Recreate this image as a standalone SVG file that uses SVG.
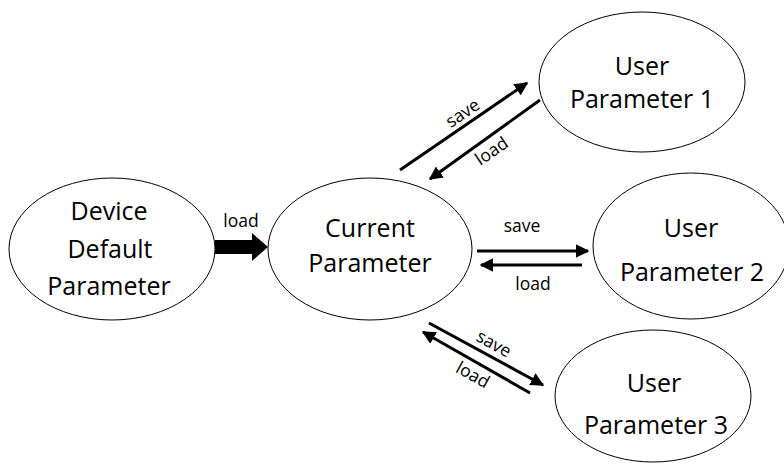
<svg xmlns="http://www.w3.org/2000/svg" width="784" height="473" viewBox="0 0 784 473">
<style>
.n{fill:#fff;stroke:#000;stroke-width:1}
.t{font-family:"Open Sans","Liberation Sans",sans-serif;font-size:25px;fill:#000;text-anchor:middle}
.l{font-family:"Open Sans","Liberation Sans",sans-serif;font-size:17.5px;fill:#000;text-anchor:middle}
.c{stroke:#000;stroke-width:3;fill:none;marker-end:url(#ah)}
</style>
<defs>
<marker id="ah" viewBox="0 0 10 10" refX="9" refY="5" markerWidth="4.5" markerHeight="4.5" markerUnits="strokeWidth" orient="auto">
<path d="M0,0 L10,5 L0,10 Z" fill="#000"/>
</marker>
</defs>
<rect width="784" height="473" fill="#fff"/>
<g id="device">
<ellipse class="n" cx="112" cy="249" rx="103" ry="71"/>
<text class="t" x="109" y="220">Device</text>
<text class="t" x="110" y="258">Default</text>
<text class="t" x="109" y="295">Parameter</text>
</g>
<g id="current">
<ellipse class="n" cx="370" cy="249" rx="102" ry="71"/>
<text class="t" x="370" y="237">Current</text>
<text class="t" x="370" y="272">Parameter</text>
</g>
<g id="user1">
<ellipse class="n" cx="642" cy="82" rx="103" ry="70"/>
<text class="t" x="642" y="75">User</text>
<text class="t" x="642" y="108">Parameter 1</text>
</g>
<g id="user2">
<ellipse class="n" cx="691" cy="246" rx="98" ry="73"/>
<text class="t" x="691" y="237">User</text>
<text class="t" x="692" y="281">Parameter 2</text>
</g>
<g id="user3">
<ellipse class="n" cx="653" cy="396" rx="98" ry="66"/>
<text class="t" x="654" y="392">User</text>
<text class="t" x="656" y="434">Parameter 3</text>
</g>
<g id="connectors">
<path d="M215,240 H252 V233 L268,247 L252,261 V254 H215 Z" fill="#000"/>
<text class="l" x="241" y="227">load</text>
<line class="c" x1="400" y1="170" x2="527" y2="83"/>
<line class="c" x1="540" y1="100" x2="430" y2="179"/>
<text class="l" transform="translate(466,118) rotate(-34)">save</text>
<text class="l" transform="translate(495,156) rotate(-34)">load</text>
<line class="c" x1="477" y1="251" x2="588" y2="251"/>
<line class="c" x1="582" y1="265" x2="481" y2="265"/>
<text class="l" x="522" y="232">save</text>
<text class="l" x="533" y="290">load</text>
<line class="c" x1="429" y1="323" x2="543" y2="385"/>
<line class="c" x1="530" y1="393" x2="423" y2="332"/>
<text class="l" transform="translate(491,349) rotate(29)">save</text>
<text class="l" transform="translate(470,380) rotate(29)">load</text>
</g>
</svg>
